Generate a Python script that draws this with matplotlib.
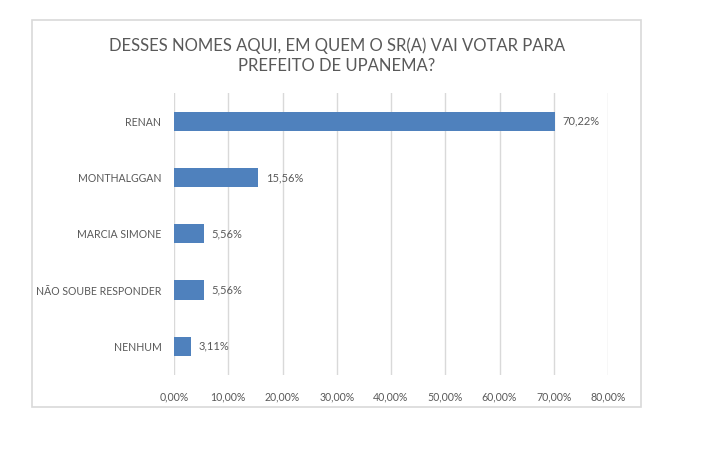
import matplotlib
matplotlib.use("Agg")
import matplotlib.pyplot as plt
from matplotlib.patches import Rectangle
import numpy as np

categories = ["RENAN", "MONTHALGGAN", "MARCIA SIMONE", "NÃO SOUBE RESPONDER", "NENHUM"]
values = [70.22, 15.56, 5.56, 5.56, 3.11]
xticks = [0, 10, 20, 30, 40, 50, 60, 70, 80]
title = "DESSES NOMES AQUI, EM QUEM O SR(A) VAI VOTAR PARA\nPREFEITO DE UPANEMA?"

plt.rcParams['font.family'] = ['Lato', 'DejaVu Sans']
txt_color = '#595959'
bar_color = '#4F81BD'
grid_color = '#D9D9D9'


def pct(v):
    return f"{v:.2f}%".replace(".", ",")


fig = plt.figure(figsize=(7.2, 4.51), dpi=100)
fig.patches.append(Rectangle((32 / 720, 44 / 451), 609 / 720, 387 / 451,
                             transform=fig.transFigure, fill=False,
                             edgecolor=grid_color, linewidth=1.2))

ax = fig.add_axes([174 / 720, 76.5 / 451, 434 / 720, 281.5 / 451])
y = np.arange(len(categories))
ax.barh(y, values, height=0.34, color=bar_color, zorder=3)
ax.set_yticks(y)
ax.set_yticklabels(categories)
ax.set_ylim(len(categories) - 0.5, -0.5)
ax.set_xlim(0, 80)
ax.set_xticks(xticks)
ax.set_xticklabels([pct(t) for t in xticks])
ax.grid(axis='x', color=grid_color, linewidth=1, zorder=0)
for s in ax.spines.values():
    s.set_visible(False)
ax.tick_params(length=0, colors=txt_color, labelsize=7.6)
ax.tick_params(axis='x', pad=12)
ax.tick_params(axis='y', pad=9)

for yi, v in zip(y, values):
    ax.text(v + 1.4, yi, pct(v), va='center', ha='left', fontsize=8, color=txt_color)

fig.text(337 / 720, 1 - 56 / 451, title, ha='center', va='center',
         fontsize=12, color=txt_color, linespacing=1.3)

fig.savefig("out.png", dpi=100)
